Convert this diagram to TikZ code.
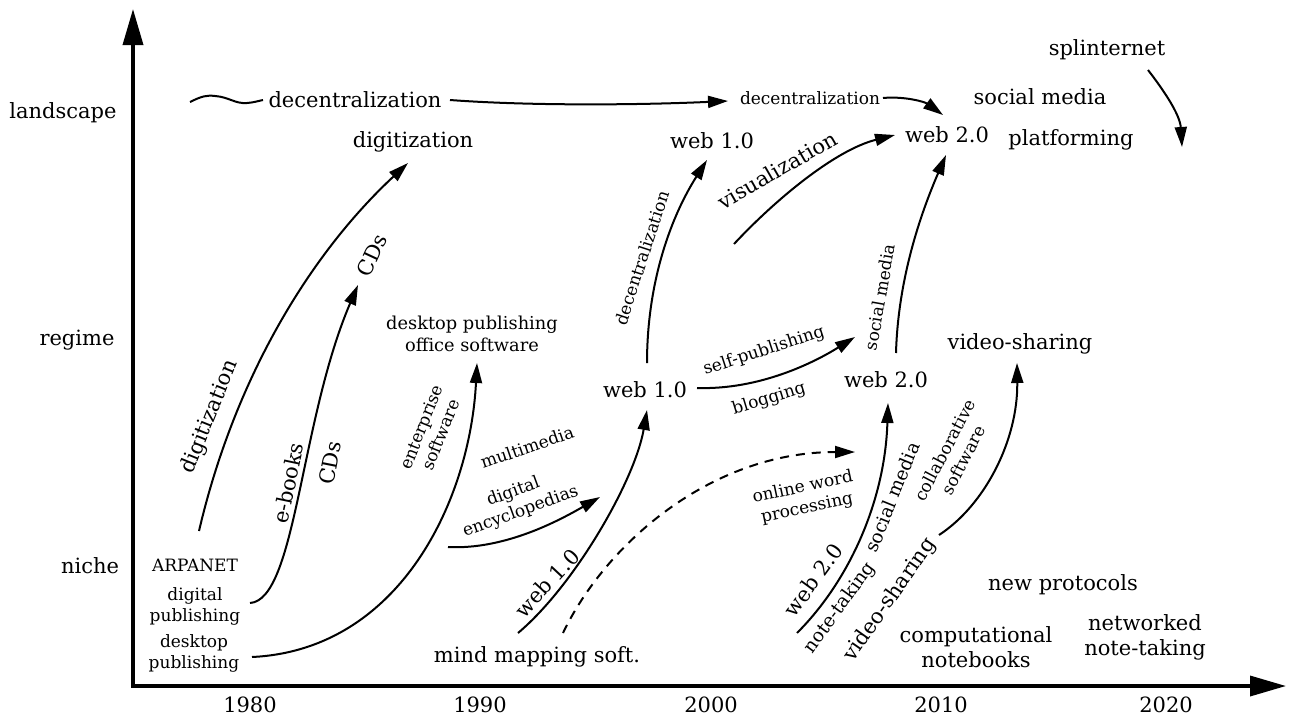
\documentclass[tikz,border=0pt]{standalone}
\usepackage{fontspec}
\setmainfont{DejaVu Serif}
\usetikzlibrary{arrows.meta}
\begin{document}
\begin{tikzpicture}[x=1pt,y=-1pt,
  lbl/.style={inner sep=0pt, align=center},
  big/.style={lbl, font=\fontsize{21}{25}\selectfont},
  mid/.style={lbl, font=\fontsize{18.5}{22}\selectfont},
  sml/.style={lbl, font=\fontsize{17}{21}\selectfont},
  flow/.style={line width=2pt, -{Triangle[length=20pt,width=12pt]}},
  plain/.style={line width=2pt},
  axis/.style={line width=3.5pt,
    {Triangle[length=36pt,width=20pt]}-{Triangle[length=36pt,width=20pt]}},
]
\useasboundingbox (0,0) rectangle (1289,720);

% axes
\coordinate (Ytip) at (133,9);
\coordinate (O) at (133,686);
\coordinate (Xtip) at (1286,686);
\draw[axis] (Ytip) -- (O) -- (Xtip);

% levels
\node[big] (landscape) at (63,113) {landscape};
\node[big] (regime) at (77,340) {regime};
\node[big] (niche) at (90,566) {niche};

% years
\node[big] (y1980) at (250,705) {1980};
\node[big] (y1990) at (480,705) {1990};
\node[big] (y2000) at (711,705) {2000};
\node[big] (y2010) at (941,705) {2010};
\node[big] (y2020) at (1166,705) {2020};

% landscape level
\node[big] (decA) at (355,100) {decentralization};
\node[sml] (decB) at (810,98) {decentralization};
\node[big] (digL) at (413,142) {digitization};
\node[big] (webLa) at (712,141) {web 1.0};
\node[big] (webLb) at (947,135) {web 2.0};
\node[big] (socL) at (1040,97) {social media};
\node[big] (platL) at (1071,140) {platforming};
\node[big] (splint) at (1107,50) {splinternet};
\node[big, rotate=30] (visL) at (777,170) {visualization};
\node[big, rotate=65] (cdsTop) at (372,255) {CDs};
\node[sml, rotate=72] (decV) at (642,258) {decentralization};
\node[sml, rotate=80] (socV) at (880,297) {social media};

% regime level
\node[lbl, font=\fontsize{17.8}{22}\selectfont] (dtpR) at (472,334) {desktop publishing\\office software};
\node[big] (webRa) at (645,390) {web 1.0};
\node[big] (webRb) at (886,380) {web 2.0};
\node[big] (vidR) at (1020,344) {video-sharing};
\node[sml, rotate=18] (selfp) at (764,351) {self-publishing};
\node[sml, rotate=17] (blog) at (769,399) {blogging};

% niche level
\node[sml] (arpa) at (195,565) {ARPANET};
\node[sml] (digpub) at (195,606) {digital\\publishing};
\node[sml] (dtpN) at (194,653) {desktop\\publishing};
\node[big, rotate=68] (digV) at (210,417) {digitization};
\node[big, rotate=78] (ebooks) at (288,483) {e-books};
\node[big, rotate=79] (cdsLow) at (330,463) {CDs};
\node[sml, rotate=68] (ent) at (431,431) {enterprise\\software};
\node[sml, rotate=19] (multi) at (527,447) {multimedia};
\node[sml, rotate=20] (encyc) at (517,502) {digital\\encyclopedias};
\node[big, rotate=47] (webNa) at (547,583) {web 1.0};
\node[big] (mind) at (537,657) {mind mapping soft.};
\node[sml, rotate=12] (owp) at (805,498) {online word\\processing};
\node[big, rotate=54] (webNb) at (813,580) {web 2.0};
\node[mid, rotate=54] (notet) at (840,608) {note-taking};
\node[mid, rotate=68] (socN) at (892,497) {social media};
\node[big, rotate=55] (vidN) at (890,600) {video-sharing};
\node[sml, rotate=62] (collab) at (954,455) {collaborative\\software};
\node[big] (newp) at (1063,585) {new protocols};
\node[big] (comp) at (976,647) {computational\\notebooks};
\node[big] (netw) at (1145,637) {networked\\note-taking};

% connector end points
\coordinate (w0) at (190,102);
\coordinate (w1) at (263,100);
\coordinate (tl0) at (450,100);
\coordinate (tl1) at (728,101);
\coordinate (ts0) at (883,98);
\coordinate (ts1) at (943,115);
\coordinate (sl0) at (1148,70);
\coordinate (sl1) at (1182,147);
\coordinate (dg0) at (199,531);
\coordinate (dg1) at (408,163);
\coordinate (cd0) at (250,603);
\coordinate (cd1) at (358,285);
\coordinate (dp0) at (252,657);
\coordinate (dp1) at (477,363);
\coordinate (en0) at (448,547);
\coordinate (en1) at (600,497);
\coordinate (wa0) at (518,633);
\coordinate (wa1) at (647,410);
\coordinate (da0) at (563,633);
\coordinate (da1) at (855,452);
\coordinate (dv0) at (647,363);
\coordinate (dv1) at (707,160);
\coordinate (vi0) at (734,244);
\coordinate (vi1) at (895,135);
\coordinate (sp0) at (697,388);
\coordinate (sp1) at (855,337);
\coordinate (sm0) at (896,353);
\coordinate (sm1) at (946,155);
\coordinate (wb0) at (797,633);
\coordinate (wb1) at (888,403);
\coordinate (vs0) at (939,535);
\coordinate (vs1) at (1017,363);

% landscape connectors
\draw[plain] (w0) .. controls (202,96) and (207,95) .. (215,96)
  .. controls (229,97) and (235,104) .. (247,103)
  .. controls (254,102.5) and (258,101) .. (w1);
\draw[flow] (tl0) .. controls (530,106) and (640,105) .. (tl1);
\draw[flow] (ts0) .. controls (905,96) and (925,102) .. (ts1);
\draw[flow] (sl0) .. controls (1165,92) and (1180,115) .. (sl1);

% transitions
\draw[flow] (dg0) .. controls (234,381) and (308,256) .. (dg1);
\draw[flow] (cd0) .. controls (296,600) and (300,420) .. (cd1);
\draw[flow] (dp0) .. controls (400,650) and (470,500) .. (dp1);
\draw[flow] (en0) .. controls (505,550) and (560,520) .. (en1);
\draw[flow] (wa0) .. controls (575,585) and (635,480) .. (wa1);
\draw[flow, dash pattern=on 9pt off 7pt] (da0) .. controls (605,545) and (710,452) .. (da1);
\draw[flow] (dv0) .. controls (647,280) and (672,215) .. (dv1);
\draw[flow] (vi0) .. controls (775,200) and (835,150) .. (vi1);
\draw[flow] (sp0) .. controls (760,390) and (815,362) .. (sp1);
\draw[flow] (sm0) .. controls (898,280) and (920,215) .. (sm1);
\draw[flow] (wb0) .. controls (850,580) and (885,500) .. (wb1);
\draw[flow] (vs0) .. controls (985,505) and (1018,440) .. (vs1);
\end{tikzpicture}
\end{document}
